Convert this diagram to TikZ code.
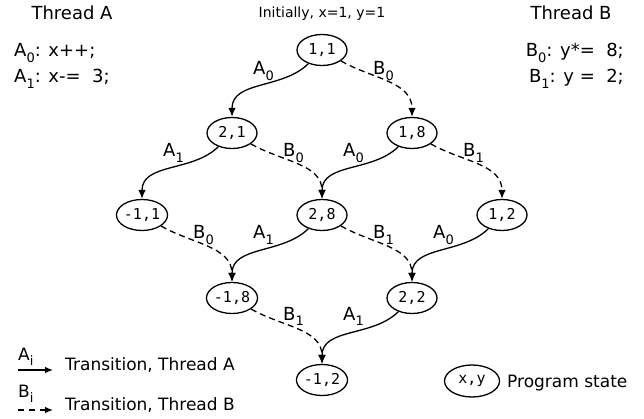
\documentclass[tikz,border=0pt]{standalone}
\usepackage{fontspec}
\setmainfont{DejaVu Sans}
\newfontfamily\monofnt{DejaVu Sans Mono}
\usetikzlibrary{arrows.meta,shapes.geometric}
\newcommand\lowsub[1]{\raisebox{-0.3em}{\fontsize{13}{13}\selectfont #1}}
\begin{document}
\begin{tikzpicture}[x=1pt,y=1pt,
  state/.style={draw, ellipse, line width=1.3pt, minimum width=50pt, minimum height=31pt, inner sep=0pt, font=\monofnt\fontsize{15}{15}\selectfont},
  ta/.style={-{Latex[length=9pt,width=7.5pt]}, line width=1.3pt},
  tb/.style={ta, dash pattern=on 6pt off 4pt},
  lbl/.style={anchor=base west, inner sep=0pt, font=\fontsize{18}{18}\selectfont},
  txt/.style={inner sep=0pt, font=\fontsize{18}{18}\selectfont},
  leg/.style={anchor=base west, inner sep=0pt, font=\fontsize{17}{17}\selectfont}
]
\useasboundingbox (0,0) rectangle (644,-419);
% headers
\node[txt, anchor=base] (ha) at (72,-20) {Thread A};
\node[inner sep=0pt, anchor=base, font=\fontsize{14}{14}\selectfont] (hi) at (322,-18) {Initially, x=1, y=1};
\node[txt, anchor=base] (hb) at (571,-20) {Thread B};
\node[txt, anchor=base west] (a0) at (14,-57) {A\lowsub{0}: x++;};
\node[txt, anchor=base west] (a1) at (14,-83) {A\lowsub{1}: x-=\ \ 3;};
\node[txt, anchor=base east] (b0) at (624,-57) {B\lowsub{0}: y*=\ \ 8;};
\node[txt, anchor=base east] (b1) at (624,-83) {B\lowsub{1}: y\ =\ \ 2;};
% states
\node[state] (n11) at (322,-50) {1,1};
\node[state] (n21) at (232,-133) {2,1};
\node[state] (n18) at (412,-133) {1,8};
\node[state] (nm11) at (142,-215) {-1,1};
\node[state] (n28) at (322,-215) {2,8};
\node[state] (n12) at (502,-215) {1,2};
\node[state] (nm18) at (232,-298) {-1,8};
\node[state] (n22) at (412,-298) {2,2};
\node[state] (nm12) at (322,-380) {-1,2};
% edges
\draw[ta] (n11) to[out=-135,in=90] (n21);
\draw[tb] (n11) to[out=-30,in=90] (n18);
\draw[ta] (n21) to[out=-135,in=90] (nm11);
\draw[tb] (n21) to[out=-30,in=90] (n28);
\draw[ta] (n18) to[out=-135,in=90] (n28);
\draw[tb] (n18) to[out=-30,in=90] (n12);
\draw[tb] (nm11) to[out=-30,in=90] (nm18);
\draw[ta] (n28) to[out=-135,in=90] (nm18);
\draw[tb] (n28) to[out=-30,in=90] (n22);
\draw[ta] (n12) to[out=-135,in=90] (n22);
\draw[tb] (nm18) to[out=-30,in=90] (nm12);
\draw[ta] (n22) to[out=-135,in=90] (nm12);
% edge labels
\node[lbl] (l1) at (253,-75) {A\lowsub{0}};
\node[lbl] (l2) at (373,-75) {B\lowsub{0}};
\node[lbl] (l3) at (163,-157) {A\lowsub{1}};
\node[lbl] (l4) at (283,-157) {B\lowsub{0}};
\node[lbl] (l5) at (343,-157) {A\lowsub{0}};
\node[lbl] (l6) at (463,-157) {B\lowsub{1}};
\node[lbl] (l7) at (193,-239) {B\lowsub{0}};
\node[lbl] (l8) at (253,-239) {A\lowsub{1}};
\node[lbl] (l9) at (373,-239) {B\lowsub{1}};
\node[lbl] (l10) at (433,-239) {A\lowsub{0}};
\node[lbl] (l11) at (283,-320) {B\lowsub{1}};
\node[lbl] (l12) at (343,-320) {A\lowsub{1}};
% legend
\coordinate (la0) at (18,-370);
\coordinate (la1) at (53,-370);
\coordinate (lb0) at (18,-410);
\coordinate (lb1) at (53,-410);
\draw[ta, -{Latex[length=8pt,width=6.5pt]}] (la0) -- (la1);
\draw[tb, -{Latex[length=8pt,width=6.5pt]}, dash pattern=on 6pt off 5pt] (lb0) -- (lb1);
\node[leg] (lai) at (18,-360) {A\lowsub{i}};
\node[leg] (lbi) at (18,-397) {B\lowsub{i}};
\node[leg] (lta) at (65,-370) {Transition, Thread A};
\node[leg] (ltb) at (65,-410) {Transition, Thread B};
\node[state, minimum width=55pt, minimum height=32pt] (lxy) at (472,-381) {x,y};
\node[leg] (lps) at (507,-387) {Program state};
\end{tikzpicture}
\end{document}
